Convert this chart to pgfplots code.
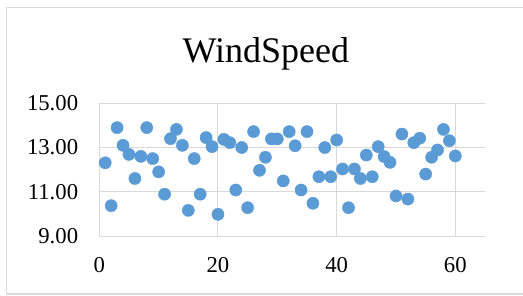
\documentclass[border=0pt]{standalone}
\usepackage{pgfplots}
\pgfplotsset{compat=1.18}
\usepackage{fontspec}
\setmainfont{Liberation Serif}
\definecolor{pt}{RGB}{91,155,213}
\definecolor{gr}{RGB}{217,217,217}
\pgfplotstableread{
x y
1 12.31
2 10.37
3 13.90
4 13.10
5 12.69
6 11.60
7 12.60
8 13.90
9 12.50
10 11.90
11 10.89
12 13.40
13 13.82
14 13.10
15 10.16
16 12.50
17 10.89
18 13.45
19 13.04
20 9.98
21 13.37
22 13.22
23 11.08
24 13.00
25 10.28
26 13.72
27 11.97
28 12.56
29 13.39
30 13.39
31 11.49
32 13.72
33 13.08
34 11.08
35 13.72
36 10.48
37 11.68
38 13.00
39 11.68
40 13.34
41 12.03
42 10.28
43 12.03
44 11.60
45 12.66
46 11.68
47 13.04
48 12.59
49 12.33
50 10.81
51 13.61
52 10.67
53 13.22
54 13.42
55 11.80
56 12.56
57 12.89
58 13.82
59 13.31
60 12.62
}\windtable
\begin{document}
\begin{tikzpicture}[x=1bp,y=1bp]
\useasboundingbox (0,0) rectangle (523,295);
\draw[gr, line width=1.2bp] (523,1) -- (6.7,1) -- (6.7,287.7) -- (523,287.7);
\node[anchor=base, inner sep=0pt, font=\fontsize{36bp}{40bp}\selectfont] at (265.8,233) {WindSpeed};
\coordinate (O) at (99.3,59);
\begin{axis}[
  at={(O)}, anchor=south west,
  scale only axis, width=385.7bp, height=132.7bp,
  xmin=0, xmax=65, ymin=9, ymax=15,
  xtick={0,20,40,60}, ytick={9,11,13,15},
  major tick length=0pt,
  axis line style={draw=none},
  grid=major,
  major grid style={draw=gr, line width=1bp},
  /pgf/number format/assume math mode=true,
  ticklabel style={font=\fontsize{22.7bp}{25bp}\selectfont, inner sep=0pt},
  yticklabel style={anchor=east, xshift=-21bp, /pgf/number format/.cd, fixed, fixed zerofill, precision=2},
  xticklabel style={anchor=north, yshift=-21bp},
  clip=false,
]
\addplot[only marks, mark=*, mark size=6.1bp, mark options={fill=pt, draw=pt}] table[x=x,y=y] {\windtable};
\end{axis}
\end{tikzpicture}
\end{document}
